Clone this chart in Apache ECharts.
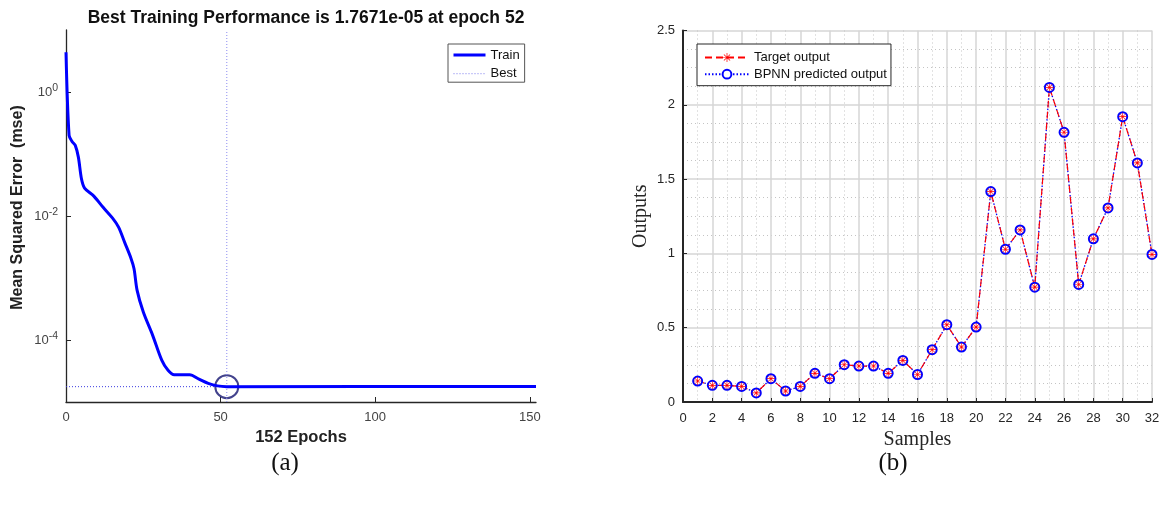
<!DOCTYPE html>
<html>
<head>
<meta charset="utf-8">
<script src="https://cdn.jsdelivr.net/npm/echarts@6/dist/echarts.min.js"></script>
<style>
html,body{margin:0;padding:0;background:#fff;}
#c{width:1164px;height:509px;}
</style>
</head>
<body>
<div id="c"></div>
<script>
// ---- Panel (a): training performance ----
const trainEpochs = [0, 1, 2, 3, 4, 5, 6, 9, 12, 15, 17, 19, 21, 22, 23, 25, 28, 31, 33, 35, 40, 43, 46, 49, 52, 152];
const trainMse = [4.37, 0.200, 0.158, 0.138, 0.0891, 0.0398, 0.0282, 0.0209, 0.0138, 0.00933, 0.00661, 0.00372, 0.00209, 0.00141, 6.31e-4, 2.82e-4, 1.20e-4, 4.68e-5, 3.24e-5, 2.75e-5, 2.75e-5, 2.34e-5, 2.0e-5, 1.82e-5, 1.7671e-5, 1.78e-5];
const bestEpoch = 52;
const bestMse = 1.7671e-5;
const epochTicks = [0, 50, 100, 150];
const mseTicks = [1e-4, 1e-2, 1];

// ---- Panel (b): target vs predicted ----
const samples = [1,2,3,4,5,6,7,8,9,10,11,12,13,14,15,16,17,18,19,20,21,22,23,24,25,26,27,28,29,30,31,32];
const targetOutput = [0.141,0.112,0.112,0.105,0.061,0.157,0.074,0.105,0.193,0.157,0.251,0.242,0.242,0.193,0.280,0.185,0.352,0.520,0.370,0.504,1.416,1.028,1.158,0.773,2.117,1.815,0.791,1.098,1.306,1.920,1.609,0.993];
const predictedOutput = [0.141,0.112,0.112,0.105,0.061,0.157,0.074,0.105,0.193,0.157,0.251,0.242,0.242,0.193,0.280,0.185,0.352,0.520,0.370,0.504,1.416,1.028,1.158,0.773,2.117,1.815,0.791,1.098,1.306,1.920,1.609,0.993];

const SANS = "'Liberation Sans', Arial, sans-serif";
const SERIF = "'Liberation Serif', 'Times New Roman', serif";
const asterisk = 'path://M9.2 0L10.8 0L10.8 20L9.2 20Z M0 9.2L20 9.2L20 10.8L0 10.8Z M2.4 3.5L3.5 2.4L17.6 16.5L16.5 17.6Z M16.5 2.4L17.6 3.5L3.5 17.6L2.4 16.5Z';

const chart = echarts.init(document.getElementById('c'), null, {renderer: 'canvas'});

const trainData = trainEpochs.map((e, i) => [e, trainMse[i]]);
const bestHData = [[0, bestMse], [bestEpoch, bestMse]];
const bestVData = [[bestEpoch, 1e-5], [bestEpoch, 10]];

const option = {
  backgroundColor: '#fff',
  animation: false,
  textStyle: {fontFamily: SANS},
  grid: [
    {left: 66, top: 30, width: 470, height: 372},
    {left: 683, top: 30.5, width: 469, height: 371.5}
  ],
  legend: [
    {
      data: [
        {name: 'Train', itemStyle: {opacity: 0}, lineStyle: {width: 3, color: '#0000ff'}},
        {name: 'Best', itemStyle: {opacity: 0}, lineStyle: {width: 1, color: '#7a7aee', type: [1, 2]}}
      ],
      orient: 'vertical', left: 448, top: 44,
      itemWidth: 32, itemHeight: 14, itemGap: 4.7, padding: [4, 5, 1.5, 4],
      borderColor: '#555', borderWidth: 1, backgroundColor: '#fff',
      textStyle: {fontFamily: SANS, fontSize: 13, lineHeight: 14, color: '#111'}
    },
    {
      data: ['Target output', 'BPNN predicted output'], orient: 'vertical', left: 697, top: 44,
      itemWidth: 44, itemHeight: 11, itemGap: 2.7, padding: [6.5, 4, 4.5, 7],
      borderColor: '#262626', borderWidth: 1, backgroundColor: '#fff',
      textStyle: {fontFamily: SANS, fontSize: 13, lineHeight: 14, color: '#111'}
    }
  ],
  xAxis: [
    {
      gridIndex: 0, type: 'value', min: 0, max: 152, interval: 50,
      name: '152 Epochs', nameLocation: 'middle', nameGap: 27,
      nameTextStyle: {fontFamily: SANS, fontSize: 16.5, fontWeight: 'bold', color: '#222'},
      axisLine: {show: true, onZero: false, lineStyle: {color: '#262626', width: 1.3}},
      axisTick: {show: true, inside: true, length: 5, customValues: epochTicks, lineStyle: {color: '#262626'}},
      axisLabel: {customValues: epochTicks, fontSize: 13, color: '#444', margin: 9, fontFamily: SANS},
      splitLine: {show: false}
    },
    {
      gridIndex: 1, type: 'value', min: 0, max: 32, interval: 2,
      name: 'Samples', nameLocation: 'middle', nameGap: 26,
      nameTextStyle: {fontFamily: SERIF, fontSize: 20, color: '#262626'},
      axisLine: {show: true, onZero: false, lineStyle: {color: '#262626', width: 2}},
      axisTick: {show: true, inside: true, length: 4, lineStyle: {color: '#262626'}},
      axisLabel: {fontSize: 13, color: '#262626', margin: 10, fontFamily: SANS},
      splitLine: {show: true, lineStyle: {color: '#d6d6d6', width: 1.5}},
      minorTick: {show: false, splitNumber: 2},
      minorSplitLine: {show: true, lineStyle: {color: '#c4c4c4', width: 1, type: [1, 3]}}
    }
  ],
  yAxis: [
    {
      gridIndex: 0, type: 'log', logBase: 10, min: 1e-5, max: 10,
      axisLine: {show: true, lineStyle: {color: '#262626', width: 1.3}},
      axisTick: {show: true, inside: true, length: 5, customValues: mseTicks, lineStyle: {color: '#262626'}},
      axisLabel: {
        customValues: mseTicks, margin: 8, color: '#444', fontFamily: SANS,
        formatter: function (v) {
          const e = Math.round(Math.log10(v));
          return '{b|10}{s|' + e + '}';
        },
        rich: {
          b: {fontSize: 13, color: '#444', fontFamily: SANS},
          s: {fontSize: 10.5, color: '#444', fontFamily: SANS, verticalAlign: 'bottom', padding: [0, 0, 7, 0]}
        }
      },
      splitLine: {show: false}
    },
    {
      gridIndex: 1, type: 'value', min: 0, max: 2.5, interval: 0.5,
      name: 'Outputs', nameLocation: 'middle', nameGap: 32,
      nameTextStyle: {fontFamily: SERIF, fontSize: 20, color: '#262626'},
      axisLine: {show: true, lineStyle: {color: '#262626', width: 2}},
      axisTick: {show: true, inside: true, length: 4, lineStyle: {color: '#262626'}},
      axisLabel: {fontSize: 13, color: '#262626', margin: 8, fontFamily: SANS},
      splitLine: {show: true, lineStyle: {color: '#d6d6d6', width: 1.5}},
      minorTick: {show: false, splitNumber: 4},
      minorSplitLine: {show: true, lineStyle: {color: '#c4c4c4', width: 1, type: [1, 3]}}
    }
  ],
  series: [
    {
      name: 'Best', type: 'line', xAxisIndex: 0, yAxisIndex: 0,
      data: bestHData, symbol: 'none', silent: true,
      lineStyle: {color: '#3a3ae0', width: 1, type: [1, 2]},
      itemStyle: {color: '#3a3ae0'}
    },
    {
      name: 'Best', type: 'line', xAxisIndex: 0, yAxisIndex: 0,
      data: bestVData, symbol: 'none', silent: true,
      lineStyle: {color: '#8c8cf0', width: 1, type: [1, 2]},
      itemStyle: {color: '#8c8cf0'}
    },
    {
      name: 'Train', type: 'line', xAxisIndex: 0, yAxisIndex: 0,
      data: trainData, symbol: 'none', smooth: 0.3,
      lineStyle: {color: '#0000ff', width: 3},
      itemStyle: {color: '#0000ff'}
    },
    {
      name: 'BestCircle', type: 'scatter', xAxisIndex: 0, yAxisIndex: 0,
      data: [[bestEpoch, bestMse]], symbol: 'circle', symbolSize: 23,
      itemStyle: {color: 'rgba(0,0,0,0)', borderColor: '#141470', borderWidth: 2}
    },
    {
      name: 'BPNN predicted output', type: 'line', xAxisIndex: 1, yAxisIndex: 1,
      data: samples.map((s, i) => [s, predictedOutput[i]]),
      symbol: 'emptyCircle', symbolSize: 9, showAllSymbol: true,
      lineStyle: {color: '#0000ff', width: 1.3, type: [1.5, 2]},
      itemStyle: {color: '#0000ff', borderColor: '#0000ff', borderWidth: 1.5}
    },
    {
      name: 'Target output', type: 'line', xAxisIndex: 1, yAxisIndex: 1,
      data: samples.map((s, i) => [s, targetOutput[i]]),
      symbol: asterisk, symbolSize: 8, showAllSymbol: true,
      lineStyle: {color: '#ff0000', width: 1.2, type: [7, 4]},
      itemStyle: {color: '#ff0000'}
    }
  ],
  graphic: [
    {type: 'text', x: 306, y: 18, style: {text: 'Best Training Performance is 1.7671e-05 at epoch 52', font: 'bold 17.5px ' + SANS, fill: '#111', align: 'center', verticalAlign: 'middle'}},
    {type: 'text', x: 18, y: 207.5, rotation: Math.PI / 2, style: {text: 'Mean Squared Error  (mse)', font: 'bold 16px ' + SANS, fill: '#222', align: 'center', verticalAlign: 'middle'}},
    {type: 'text', x: 285, y: 463, style: {text: '(a)', font: '25px ' + SERIF, fill: '#111', align: 'center', verticalAlign: 'middle'}},
    {type: 'text', x: 893, y: 463, style: {text: '(b)', font: '25px ' + SERIF, fill: '#111', align: 'center', verticalAlign: 'middle'}}
  ]
};
chart.setOption(option);
</script>
</body>
</html>
